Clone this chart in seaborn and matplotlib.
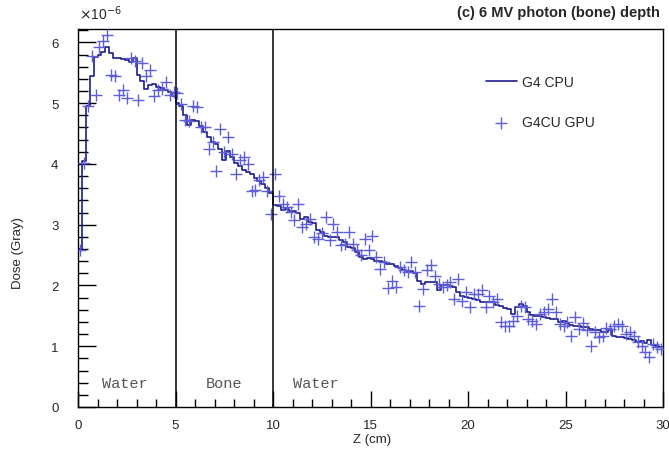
#!/usr/bin/env python3
# -*- coding: utf-8 -*-
"""
6 MV photon depth dose in a water/bone/water phantom: G4 CPU vs G4CU GPU
"""

import numpy as np
import pandas as pd
import matplotlib
matplotlib.use('Agg')
import matplotlib.pyplot as plt
import seaborn as sns

# depth bins (cm), 0.2 cm wide from 0 to 30
z_min, z_max, n_bins = 0.0, 30.0, 150

# dose per bin, in units of 1e-6 Gray
dose_cpu = [
    2.60, 4.05, 4.95, 5.45, 5.76, 5.80, 5.84, 5.93, 5.82, 5.74,
    5.74, 5.72, 5.71, 5.67, 5.74, 5.47, 5.36, 5.24, 5.30, 5.32,
    5.27, 5.25, 5.21, 5.18, 5.12,
    5.00, 4.96, 4.80, 4.64, 4.72, 4.70, 4.62, 4.52, 4.44, 4.36,
    4.33, 4.25, 4.06, 4.22, 4.12, 4.01, 3.97, 3.90, 3.87, 3.84,
    3.76, 3.72, 3.67, 3.60, 3.52,
    3.32, 3.31, 3.24, 3.26, 3.22, 3.22, 3.20, 3.10, 3.12, 3.05,
    3.02, 2.92, 2.88, 2.82, 2.80, 2.80, 2.79, 2.74, 2.72, 2.64,
    2.61, 2.55, 2.47, 2.44, 2.45,
    2.44, 2.41, 2.40, 2.38, 2.36, 2.35, 2.32, 2.28, 2.26, 2.23,
    2.23, 2.21, 2.08, 2.03, 2.06, 2.06, 2.05, 1.92, 2.00, 2.00,
    1.99, 1.97, 1.90, 1.83, 1.81,
    1.80, 1.78, 1.76, 1.73, 1.73, 1.72, 1.72, 1.68, 1.66, 1.63,
    1.62, 1.53, 1.65, 1.70, 1.66, 1.56, 1.52, 1.50, 1.50, 1.48,
    1.47, 1.45, 1.44, 1.40, 1.41, 1.39, 1.35, 1.33,
    1.33, 1.32, 1.31, 1.28, 1.27, 1.26, 1.23, 1.24, 1.27, 1.17,
    1.15, 1.15, 1.14, 1.12, 1.11, 1.07, 1.09, 1.05, 1.10, 1.02,
    1.01, 0.98,
]

dose_gpu = [
    2.59, 4.01, 4.95, 5.78, 5.13, 5.93, 6.02, 6.12, 5.46, 5.45,
    5.14, 5.21, 5.08, 5.74, 5.70, 5.05, 5.66, 5.44, 5.55, 5.12,
    5.22, 5.23, 5.35, 5.13, 5.19,
    5.16, 4.99, 4.72, 4.70, 4.96, 4.93, 4.61, 4.61, 4.25, 4.36,
    3.89, 4.58, 4.20, 4.44, 4.17, 3.84, 4.06, 4.11, 4.00, 3.56,
    3.57, 3.73, 3.78, 3.56, 3.18,
    3.84, 3.48, 3.34, 3.29, 3.21, 3.07, 3.34, 2.96, 3.01, 3.10,
    2.80, 2.77, 2.86, 3.13, 2.74, 3.01, 2.88, 2.66, 2.69, 2.88,
    2.69, 2.58, 2.50, 2.77, 2.58,
    2.81, 2.47, 2.27, 2.38, 1.96, 2.08, 1.97, 2.30, 2.25, 2.22,
    2.38, 2.22, 1.67, 1.94, 2.25, 2.33, 2.16, 2.02, 1.97, 2.00,
    2.05, 1.78, 2.11, 1.75, 1.89,
    1.64, 1.86, 1.86, 1.92, 1.64, 1.83, 1.72, 1.78, 1.40, 1.34,
    1.34, 1.42, 1.50, 1.67, 1.64, 1.45, 1.42, 1.37, 1.53, 1.56,
    1.61, 1.78, 1.56, 1.37, 1.34, 1.40, 1.17, 1.48,
    1.28, 1.39, 1.26, 1.01, 1.23, 1.15, 1.17, 1.30, 1.28, 1.34,
    1.37, 1.34, 1.20, 1.23, 1.17, 1.07, 1.01, 0.90, 0.82, 1.04,
    0.98, 0.96,
]

# phantom layers
boundaries = [5, 10]
layer_names = ['Water', 'Bone', 'Water']
layer_label_x = [2.4, 7.5, 12.2]

x_ticks = [0, 5, 10, 15, 20, 25, 30]
y_ticks = [0, 1, 2, 3, 4, 5, 6]

COLOR_CPU = '#1c1c8e'
COLOR_GPU = '#5e5eda'


def main():
    sns.set_style('ticks')
    plt.rcParams['font.family'] = ['Liberation Sans', 'DejaVu Sans']

    edges = np.linspace(z_min, z_max, n_bins + 1)
    centers = 0.5 * (edges[:-1] + edges[1:])

    # step outline needs the last value repeated at the right edge
    df_cpu = pd.DataFrame({'z': edges, 'dose': dose_cpu + [dose_cpu[-1]]})
    df_gpu = pd.DataFrame({'z': centers, 'dose': dose_gpu})

    fig = plt.figure(figsize=(6.69, 4.56), dpi=100)
    ax = fig.add_axes([78 / 669, 1 - 408 / 456, 585 / 669, 378 / 456])

    sns.lineplot(data=df_cpu, x='z', y='dose', ax=ax, drawstyle='steps-post',
                 color=COLOR_CPU, linewidth=1.2, label='G4 CPU')
    sns.scatterplot(data=df_gpu, x='z', y='dose', ax=ax, marker='+', s=75,
                    color=COLOR_GPU, linewidth=1.0, label='G4CU GPU', zorder=3)

    # layer boundaries
    for b in boundaries:
        ax.axvline(b, color='black', linewidth=1.1, zorder=4)
    for name, xt in zip(layer_names, layer_label_x):
        ax.text(xt, 0.4, name, ha='center', va='center', color='#555555',
                fontsize=11, family=['Liberation Mono', 'DejaVu Sans Mono'])

    ax.set_xlim(z_min, z_max)
    ax.set_ylim(0, 6.22)
    ax.set_xticks(x_ticks)
    ax.set_yticks(y_ticks)
    ax.set_xticks(np.arange(0, 31, 1), minor=True)
    ax.set_yticks(np.arange(0, 6.21, 0.2), minor=True)
    ax.tick_params(axis='both', which='both', direction='in', top=False,
                   right=False, labelsize=9.5, width=1, color='black')
    ax.tick_params(axis='y', which='major', length=13, pad=14)
    ax.tick_params(axis='y', which='minor', length=7)
    ax.tick_params(axis='x', which='major', length=11.5, pad=9)
    ax.tick_params(axis='x', which='minor', length=6)
    for sp in ax.spines.values():
        sp.set_color('black')
        sp.set_linewidth(1.0)

    ax.set_xlabel('')
    ax.set_ylabel('')
    fig.text(372 / 669, 1 - 440 / 456, 'Z (cm)', ha='center', va='center',
             fontsize=9.5)
    fig.text(18 / 669, 1 - 253 / 456, 'Dose (Gray)', ha='center',
             va='center', rotation=90, fontsize=9.5)
    fig.text(79 / 669, 1 - 14 / 456, r'$\times$10$^{-6}$', ha='left',
             va='center', fontsize=10)
    fig.text(660 / 669, 1 - 13 / 456, '(c) 6 MV photon (bone) depth',
             ha='right', va='center', fontsize=10.5, fontweight='bold')

    ax.legend(loc='upper left', bbox_to_anchor=(486 / 669, 1 - 76 / 456),
              bbox_transform=fig.transFigure, frameon=False, fontsize=10,
              handlelength=2.2, handletextpad=0.4, labelspacing=1.9,
              borderpad=0, borderaxespad=0)

    fig.savefig('out.png', dpi=100, facecolor='white')


if __name__ == '__main__':
    main()
